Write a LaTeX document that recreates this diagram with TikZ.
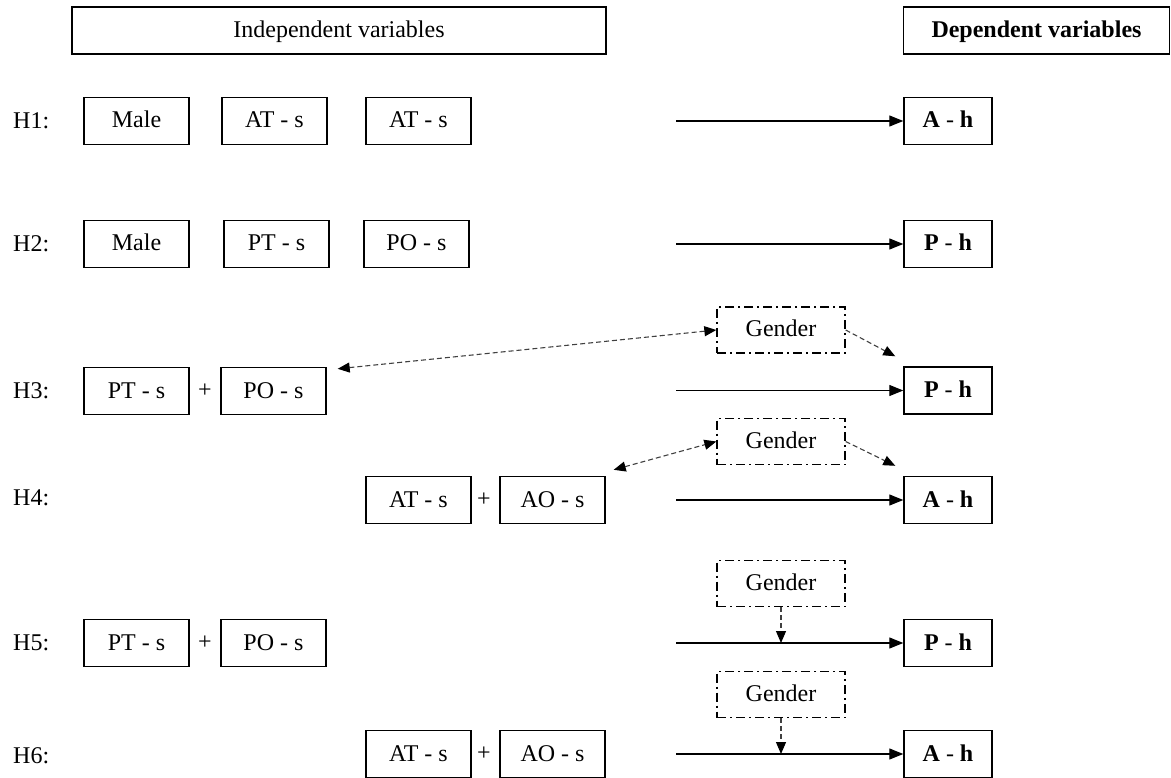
\documentclass[tikz,border=0pt]{standalone}
\usepackage{fontspec}
\setmainfont{Liberation Serif}
\usetikzlibrary{arrows.meta,calc}
\begin{document}
\begin{tikzpicture}[x=1pt,y=-1pt,
  txt/.style={font=\fontsize{24}{28}\selectfont},
  box/.style={txt,draw,line width=1.4pt,minimum height=47pt,inner sep=0pt,text height=15pt,text depth=1pt},
  sbox/.style={box,minimum width=105pt},
  dbox/.style={box,minimum width=88pt},
  gbox/.style={box,line width=1.3pt,minimum width=128pt,minimum height=46pt,dash pattern=on 9pt off 4pt on 2pt off 4pt},
  lab/.style={txt,anchor=west,inner sep=0pt},
  plus/.style={txt,inner sep=0pt},
  arr/.style={line width=1.1pt,-{Triangle[length=14pt,width=11pt]}},
  darr/.style={line width=1.1pt,black!75,dash pattern=on 5pt off 3pt,-{Triangle[length=12pt,width=10pt,color=black]}},
  ddarr/.style={line width=1.1pt,black!75,dash pattern=on 5pt off 3pt,{Triangle[length=12pt,width=10pt,color=black]}-{Triangle[length=12pt,width=10pt,color=black]}}
]
\useasboundingbox (0,0) rectangle (1171,778);

% header
\node[box,minimum width=534pt] (ind) at (339,30.5) {Independent variables};
\node[box,minimum width=266pt] (dep) at (1036.5,30.5) {\textbf{Dependent variables}};

% H1
\node[lab] (h1) at (13,121) {H1:};
\node[sbox] (m1) at (136.5,121) {Male};
\node[sbox] (at1) at (274.5,121) {AT - s};
\node[sbox] (ata1) at (418.5,121) {AT - s};
\node[dbox] (ah1) at (948,121) {\textbf{A} - \textbf{h}};
\coordinate (s1) at (676,121);
\draw[arr] (s1) -- (ah1);

% H2
\node[lab] (h2) at (13,244) {H2:};
\node[sbox] (m2) at (136.5,244) {Male};
\node[sbox] (pt2) at (276.5,244) {PT - s};
\node[sbox] (po2) at (416.5,244) {PO - s};
\node[dbox] (ph2) at (948,244) {\textbf{P} - \textbf{h}};
\coordinate (s2) at (676,244);
\draw[arr] (s2) -- (ph2);

% H3
\node[gbox] (g3) at (781,330) {Gender};
\node[lab] (h3) at (13,391) {H3:};
\node[sbox] (pt3) at (136.5,391) {PT - s};
\node[plus] (p3) at (205,391) {+};
\node[sbox] (po3) at (273.5,391) {PO - s};
\node[dbox] (ph3) at (948,390.5) {\textbf{P} - \textbf{h}};
\coordinate (s3) at (676,390.5);
\draw[arr] (s3) -- (ph3);
\coordinate (e3) at ($(po3.north east)+(11,2)$);
\draw[ddarr] (e3) -- (g3.west);
\coordinate (f3) at ($(ph3.north west)+(-8,-10)$);
\draw[darr] (g3.east) -- (f3);

% H4
\node[gbox] (g4) at (781,441.5) {Gender};
\node[lab] (h4) at (13,498) {H4:};
\node[sbox] (at4) at (418.5,500) {AT - s};
\node[plus] (p4) at (484,500) {+};
\node[sbox] (ao4) at (552.5,500) {AO - s};
\node[dbox] (ah4) at (948,500) {\textbf{A} - \textbf{h}};
\coordinate (s4) at (676,500);
\draw[arr] (s4) -- (ah4);
\coordinate (e4) at ($(ao4.north east)+(8,-6)$);
\draw[ddarr] (e4) -- (g4.west);
\coordinate (f4) at ($(ah4.north west)+(-8,-10)$);
\draw[darr] (g4.east) -- (f4);

% H5
\node[gbox] (g5) at (781,583.5) {Gender};
\node[lab] (h5) at (13,643) {H5:};
\node[sbox] (pt5) at (136.5,643) {PT - s};
\node[plus] (p5) at (205,643) {+};
\node[sbox] (po5) at (273.5,643) {PO - s};
\node[dbox] (ph5) at (948,643) {\textbf{P} - \textbf{h}};
\coordinate (s5) at (676,643);
\draw[arr] (s5) -- (ph5);
\draw[darr] (g5.south) -- (g5.south |- ph5.west);

% H6
\node[gbox] (g6) at (781,694.5) {Gender};
\node[lab] (h6) at (13,756) {H6:};
\node[sbox] (at6) at (418.5,754) {AT - s};
\node[plus] (p6) at (484,754) {+};
\node[sbox] (ao6) at (552.5,754) {AO - s};
\node[dbox] (ah6) at (948,754) {\textbf{A} - \textbf{h}};
\coordinate (s6) at (676,754);
\draw[arr] (s6) -- (ah6);
\draw[darr] (g6.south) -- (g6.south |- ah6.west);
\end{tikzpicture}
\end{document}
